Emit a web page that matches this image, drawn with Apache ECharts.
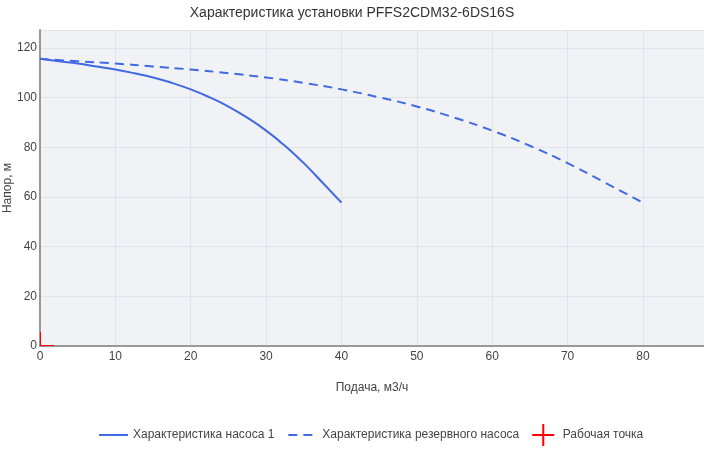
<!DOCTYPE html>
<html>
<head>
<meta charset="utf-8">
<script src="https://cdn.jsdelivr.net/npm/echarts@6/dist/echarts.min.js"></script>
<style>
html, body { margin: 0; padding: 0; background: #fff; }
#chart { width: 704px; height: 450px; }
</style>
</head>
<body>
<div id="chart"></div>
<script>
// данные
var pumpFlow = [0, 2.5, 5, 7.5, 10, 12.5, 15, 17.5, 20, 22.5, 25, 27.5, 30, 32.5, 35, 37.5, 40];
var pumpHead = [115.6, 114.6, 113.7, 112.5, 111.3, 109.8, 108.1, 105.9, 103.3, 100.1, 96.4, 91.9, 86.7, 80.6, 73.6, 65.7, 57.7];
var reserveFlow = [0, 5, 10, 15, 20, 25, 30, 35, 40, 45, 50, 55, 60, 65, 70, 75, 80];
var reserveHead = [115.6, 114.6, 113.7, 112.5, 111.3, 109.8, 108.1, 105.9, 103.3, 100.1, 96.4, 91.9, 86.7, 80.6, 73.6, 65.7, 57.7];
var workPoint = [0, 0];

var seriesNames = ['Характеристика насоса 1', 'Характеристика резервного насоса', 'Рабочая точка'];

function pairs(xs, ys) {
	var out = [];
	for (var i = 0; i < xs.length; i++) {
		out.push([xs[i], ys[i]]);
	}
	return out;
}

var fontFamily = 'Arial, "Liberation Sans", sans-serif';
var crossPath = 'path://M-1,-11H1V-1H11V1H1V11H-1V1H-11V-1H-1Z';

//крест рабочей точки, обрезается по области графика
function renderCross(params, api) {
	var p = api.coord([api.value(0), api.value(1)]);
	var half = 14;
	return {
		type: 'group',
		children: [{
			type: 'rect',
			shape: { x: p[0] - half, y: p[1] - 1, width: half * 2, height: 2 },
			style: { fill: '#ff0000' }
		}, {
			type: 'rect',
			shape: { x: p[0] - 1, y: p[1] - half, width: 2, height: half * 2 },
			style: { fill: '#ff0000' }
		}]
	};
}

var chart = echarts.init(document.getElementById('chart'));
var option = {
	animation: false,
	textStyle: { fontFamily: fontFamily },
	title: {
		text: 'Характеристика установки PFFS2CDM32-6DS16S',
		left: 'center',
		top: 1,
		textStyle: { fontSize: 14, fontWeight: 'normal', color: '#333', fontFamily: fontFamily }
	},
	legend: {
		top: 424,
		left: 98,
		padding: 0,
		itemGap: 13,
		itemWidth: 29,
		itemHeight: 22,
		//кружки у линий скрыты, остаётся только линия
		itemStyle: { opacity: 0 },
		textStyle: { fontSize: 12, color: '#444' },
		data: [
			{ name: seriesNames[0] },
			{ name: seriesNames[1] },
			{ name: seriesNames[2], icon: crossPath, itemStyle: { color: '#ff0000', opacity: 1 } }
		]
	},
	grid: {
		left: 40,
		right: 0,
		top: 30,
		bottom: 104,
		containLabel: false,
		outerBoundsMode: 'none',
		show: true,
		backgroundColor: '#f0f2f6',
		borderWidth: 0
	},
	xAxis: {
		type: 'value',
		min: 0,
		max: 88.1,
		interval: 10,
		name: 'Подача, м3/ч',
		nameLocation: 'middle',
		nameGap: 36,
		nameMoveOverlap: false,
		nameTextStyle: { fontSize: 12, color: '#444' },
		axisLine: { show: true, onZero: false, lineStyle: { color: '#999', width: 2 } },
		axisTick: { show: false },
		axisLabel: { color: '#444', fontSize: 12, margin: 5, showMaxLabel: false },
		splitLine: { show: true, lineStyle: { color: '#e1e3e8', width: 1 } }
	},
	yAxis: {
		type: 'value',
		min: 0,
		max: 127.2,
		interval: 20,
		name: 'Напор, м',
		nameLocation: 'middle',
		nameGap: 26,
		nameMoveOverlap: false,
		nameTextStyle: { fontSize: 12, color: '#444' },
		axisLine: { show: true, onZero: false, lineStyle: { color: '#999', width: 2 } },
		axisTick: { show: false },
		axisLabel: { color: '#444', fontSize: 12, margin: 3, showMaxLabel: false },
		splitLine: { show: true, lineStyle: { color: '#e1e3e8', width: 1 } }
	},
	series: [{
		name: seriesNames[0],
		type: 'line',
		smooth: true,
		showSymbol: false,
		color: '#4169e1',
		lineStyle: { color: '#4169e1', width: 2 },
		data: pairs(pumpFlow, pumpHead)
	}, {
		name: seriesNames[1],
		type: 'line',
		smooth: true,
		showSymbol: false,
		color: '#4169e1',
		lineStyle: { color: '#4169e1', width: 2, type: [9, 6] },
		data: pairs(reserveFlow, reserveHead)
	}, {
		name: seriesNames[2],
		type: 'custom',
		clip: true,
		color: '#ff0000',
		renderItem: renderCross,
		data: [workPoint]
	}]
};
chart.setOption(option);
</script>
</body>
</html>
